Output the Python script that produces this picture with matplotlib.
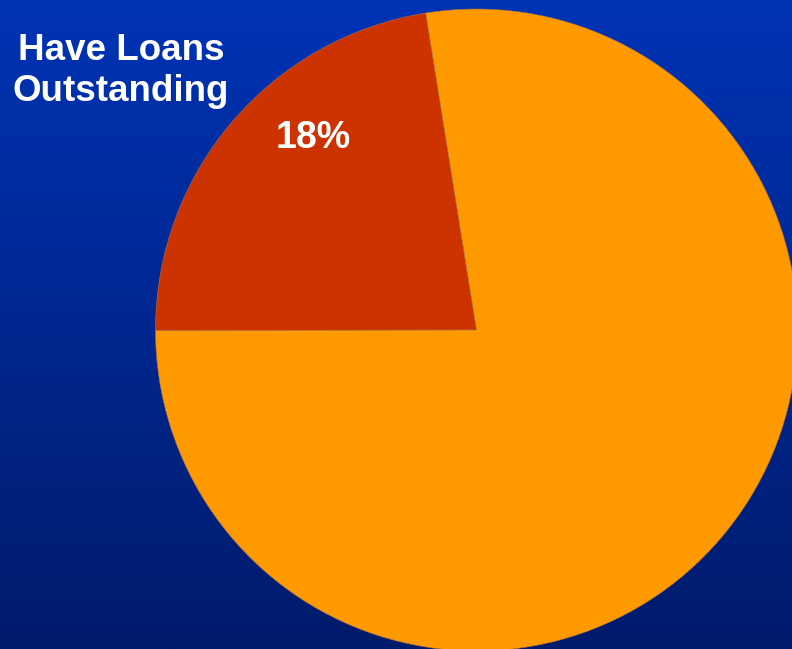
import matplotlib
matplotlib.use("Agg")
import matplotlib.pyplot as plt
import numpy as np

# slice shares as drawn in the picture (the printed label reads 18%)
labels = ["Have Loans Outstanding", "No Loans"]
shares = [22.5, 77.5]
slice_label = "18%"
colors = ["#cc3300", "#ff9900"]

W, H = 792, 649
fig = plt.figure(figsize=(W / 100, H / 100), dpi=100)
ax = fig.add_axes([0, 0, 1, 1])

# blue vertical gradient background
grad = np.linspace(0, 1, 256).reshape(-1, 1)
top = np.array([0x00, 0x33, 0xb5]) / 255
bot = np.array([0x00, 0x1b, 0x6b]) / 255
img = top + (bot - top) * grad[..., None]
ax.imshow(img, extent=[0, W, 0, H], aspect="auto", origin="upper", zorder=0)

# pie, in pixel coordinates
ax.pie(shares, colors=colors, startangle=99.1, counterclock=True,
       center=(476.5, H - 330), radius=321, frame=True,
       wedgeprops=dict(edgecolor="#b07040", linewidth=0.4, zorder=2))

ax.text(121, H - 71, "Have Loans\nOutstanding", color="white", fontsize=26.5,
        fontweight="bold", family="Liberation Sans", ha="center", va="center",
        linespacing=1.25, zorder=3)
ax.text(313, H - 138, slice_label, color="white", fontsize=27,
        fontweight="bold", family="Liberation Sans", ha="center", va="center",
        zorder=3)

ax.set_xlim(0, W)
ax.set_ylim(0, H)
ax.set_aspect("auto")
ax.axis("off")

fig.savefig("out.png", dpi=100)
